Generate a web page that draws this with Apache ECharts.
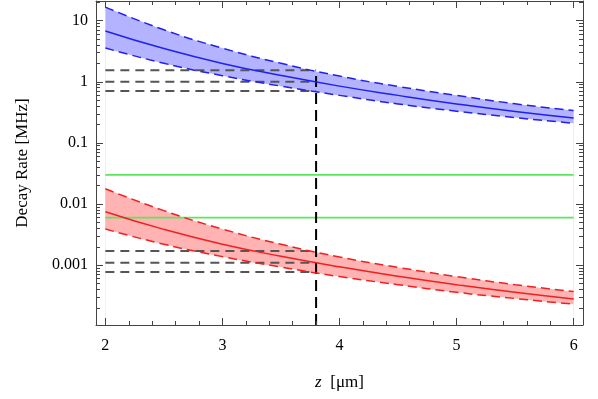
<!DOCTYPE html>
<html>
<head>
<meta charset="utf-8">
<script src="https://cdn.jsdelivr.net/npm/echarts@6/dist/echarts.min.js"></script>
<style>
html, body { margin: 0; padding: 0; background: #fff; }
#chart { width: 598px; height: 399px; }
</style>
</head>
<body>
<div id="chart"></div>
<script>
// distance z [um] and decay rates [MHz]
const zValues = [2, 2.5, 3, 3.5, 4, 4.5, 5, 5.5, 6];
const blueMid = [6.8, 3.5, 2.0, 1.27, 0.85, 0.6, 0.435, 0.327, 0.256];
const blueHigh = [16.7, 7.1, 3.56, 2.01, 1.24, 0.84, 0.6, 0.437, 0.339];
const blueLow = [3.57, 2.01, 1.26, 0.85, 0.6, 0.435, 0.331, 0.26, 0.21];
const redMid = [0.0075, 0.00385, 0.0022, 0.0014, 0.00094, 0.00066, 0.00048, 0.00036, 0.00028];
const redHigh = [0.0178, 0.0078, 0.0039, 0.0022, 0.00136, 0.00092, 0.00065, 0.00048, 0.00037];
const redLow = [0.0039, 0.0022, 0.00138, 0.00093, 0.00065, 0.00048, 0.00036, 0.000285, 0.00023];
const greenLevels = [0.03, 0.006];
const greyLevels = [1.55, 1.0, 0.71, 0.0017, 0.0011, 0.00077];
const markerZ = 3.8;
const markerTop = 1.55;
const xRange = [1.92, 6.08];
const yRange = [1.05e-4, 21];

const font = 'Liberation Serif';
const pairs = (arr) => zValues.map((z, i) => [z, arr[i]]);

function band(data, color) {
  return {
    type: 'line', data: pairs(data), smooth: true, showSymbol: false, silent: true,
    lineStyle: { width: 0, opacity: 0 },
    areaStyle: { color: color, opacity: 1, origin: 'start' }
  };
}
function curve(data, color, dashed) {
  return {
    type: 'line', data: pairs(data), smooth: true, showSymbol: false,
    lineStyle: { color: color, width: 1.5, type: dashed ? [9, 5] : 'solid' }
  };
}

const series = [
  band(blueHigh, '#b3b3ff'),
  band(blueLow, '#ffffff'),
  band(redHigh, '#ffb3b3'),
  band(redLow, '#ffffff')
];
greenLevels.forEach(v => series.push({
  type: 'line', data: [[zValues[0], v], [zValues[zValues.length - 1], v]], showSymbol: false,
  lineStyle: { color: '#5ce65c', width: 1.8 }
}));
greyLevels.forEach(v => series.push({
  type: 'line', data: [[zValues[0], v], [markerZ, v]], showSymbol: false,
  lineStyle: { color: '#555555', width: 2, type: [9, 6] }
}));
series.push({
  type: 'line', data: [[markerZ, yRange[0]], [markerZ, markerTop]], showSymbol: false,
  lineStyle: { color: '#000000', width: 2, type: [11, 6] }
});
series.push(curve(blueHigh, '#2020f0', true), curve(blueLow, '#2020f0', true), curve(blueMid, '#2020f0', false));
series.push(curve(redHigh, '#f02020', true), curve(redLow, '#f02020', true), curve(redMid, '#f02020', false));

const lineCol = '#444';
function xAxisCfg(pos, labels) {
  return {
    type: 'value', position: pos, min: xRange[0], max: xRange[1], splitNumber: 4, z: 10,
    axisLine: { show: true, onZero: false, lineStyle: { color: lineCol, width: 1 } },
    axisTick: { show: true, inside: true, length: 7, lineStyle: { color: lineCol } },
    minorTick: { show: true, splitNumber: 5, length: 4, lineStyle: { color: lineCol } },
    splitLine: { show: false },
    axisLabel: {
      show: labels, color: '#000', fontFamily: font, fontSize: 16, margin: 13,
      formatter: v => (Math.abs(v - Math.round(v)) < 1e-6 ? String(Math.round(v)) : '')
    },
    name: labels ? '{i|z}  [μm]' : '', nameLocation: 'middle', nameGap: 49,
    nameTextStyle: { fontFamily: font, fontSize: 17, color: '#000', rich: { i: { fontStyle: 'italic', fontFamily: font, fontSize: 17 } } }
  };
}
function yAxisCfg(pos, labels) {
  return {
    type: 'log', logBase: 10, position: pos, min: yRange[0], max: yRange[1], z: 10,
    axisLine: { show: true, lineStyle: { color: lineCol, width: 1 } },
    axisTick: { show: true, inside: true, length: 7, lineStyle: { color: lineCol } },
    minorTick: { show: true, splitNumber: 9, length: 4, lineStyle: { color: lineCol } },
    splitLine: { show: false },
    axisLabel: {
      show: labels, color: '#000', fontFamily: font, fontSize: 16, margin: 8,
      formatter: v => {
        const e = Math.log10(v);
        return Math.abs(e - Math.round(e)) < 1e-6 ? String(Number(v.toPrecision(1))) : '';
      }
    },
    name: labels ? 'Decay Rate [MHz]' : '', nameLocation: 'middle', nameGap: 65,
    nameTextStyle: { fontFamily: font, fontSize: 17, color: '#000' }
  };
}

const chart = echarts.init(document.getElementById('chart'));
chart.setOption({
  animation: false,
  backgroundColor: '#fff',
  grid: { left: 96, right: 15, top: 1, bottom: 74 },
  xAxis: [xAxisCfg('bottom', true), xAxisCfg('top', false)],
  yAxis: [yAxisCfg('left', true), yAxisCfg('right', false)],
  series: series
});
</script>
</body>
</html>
